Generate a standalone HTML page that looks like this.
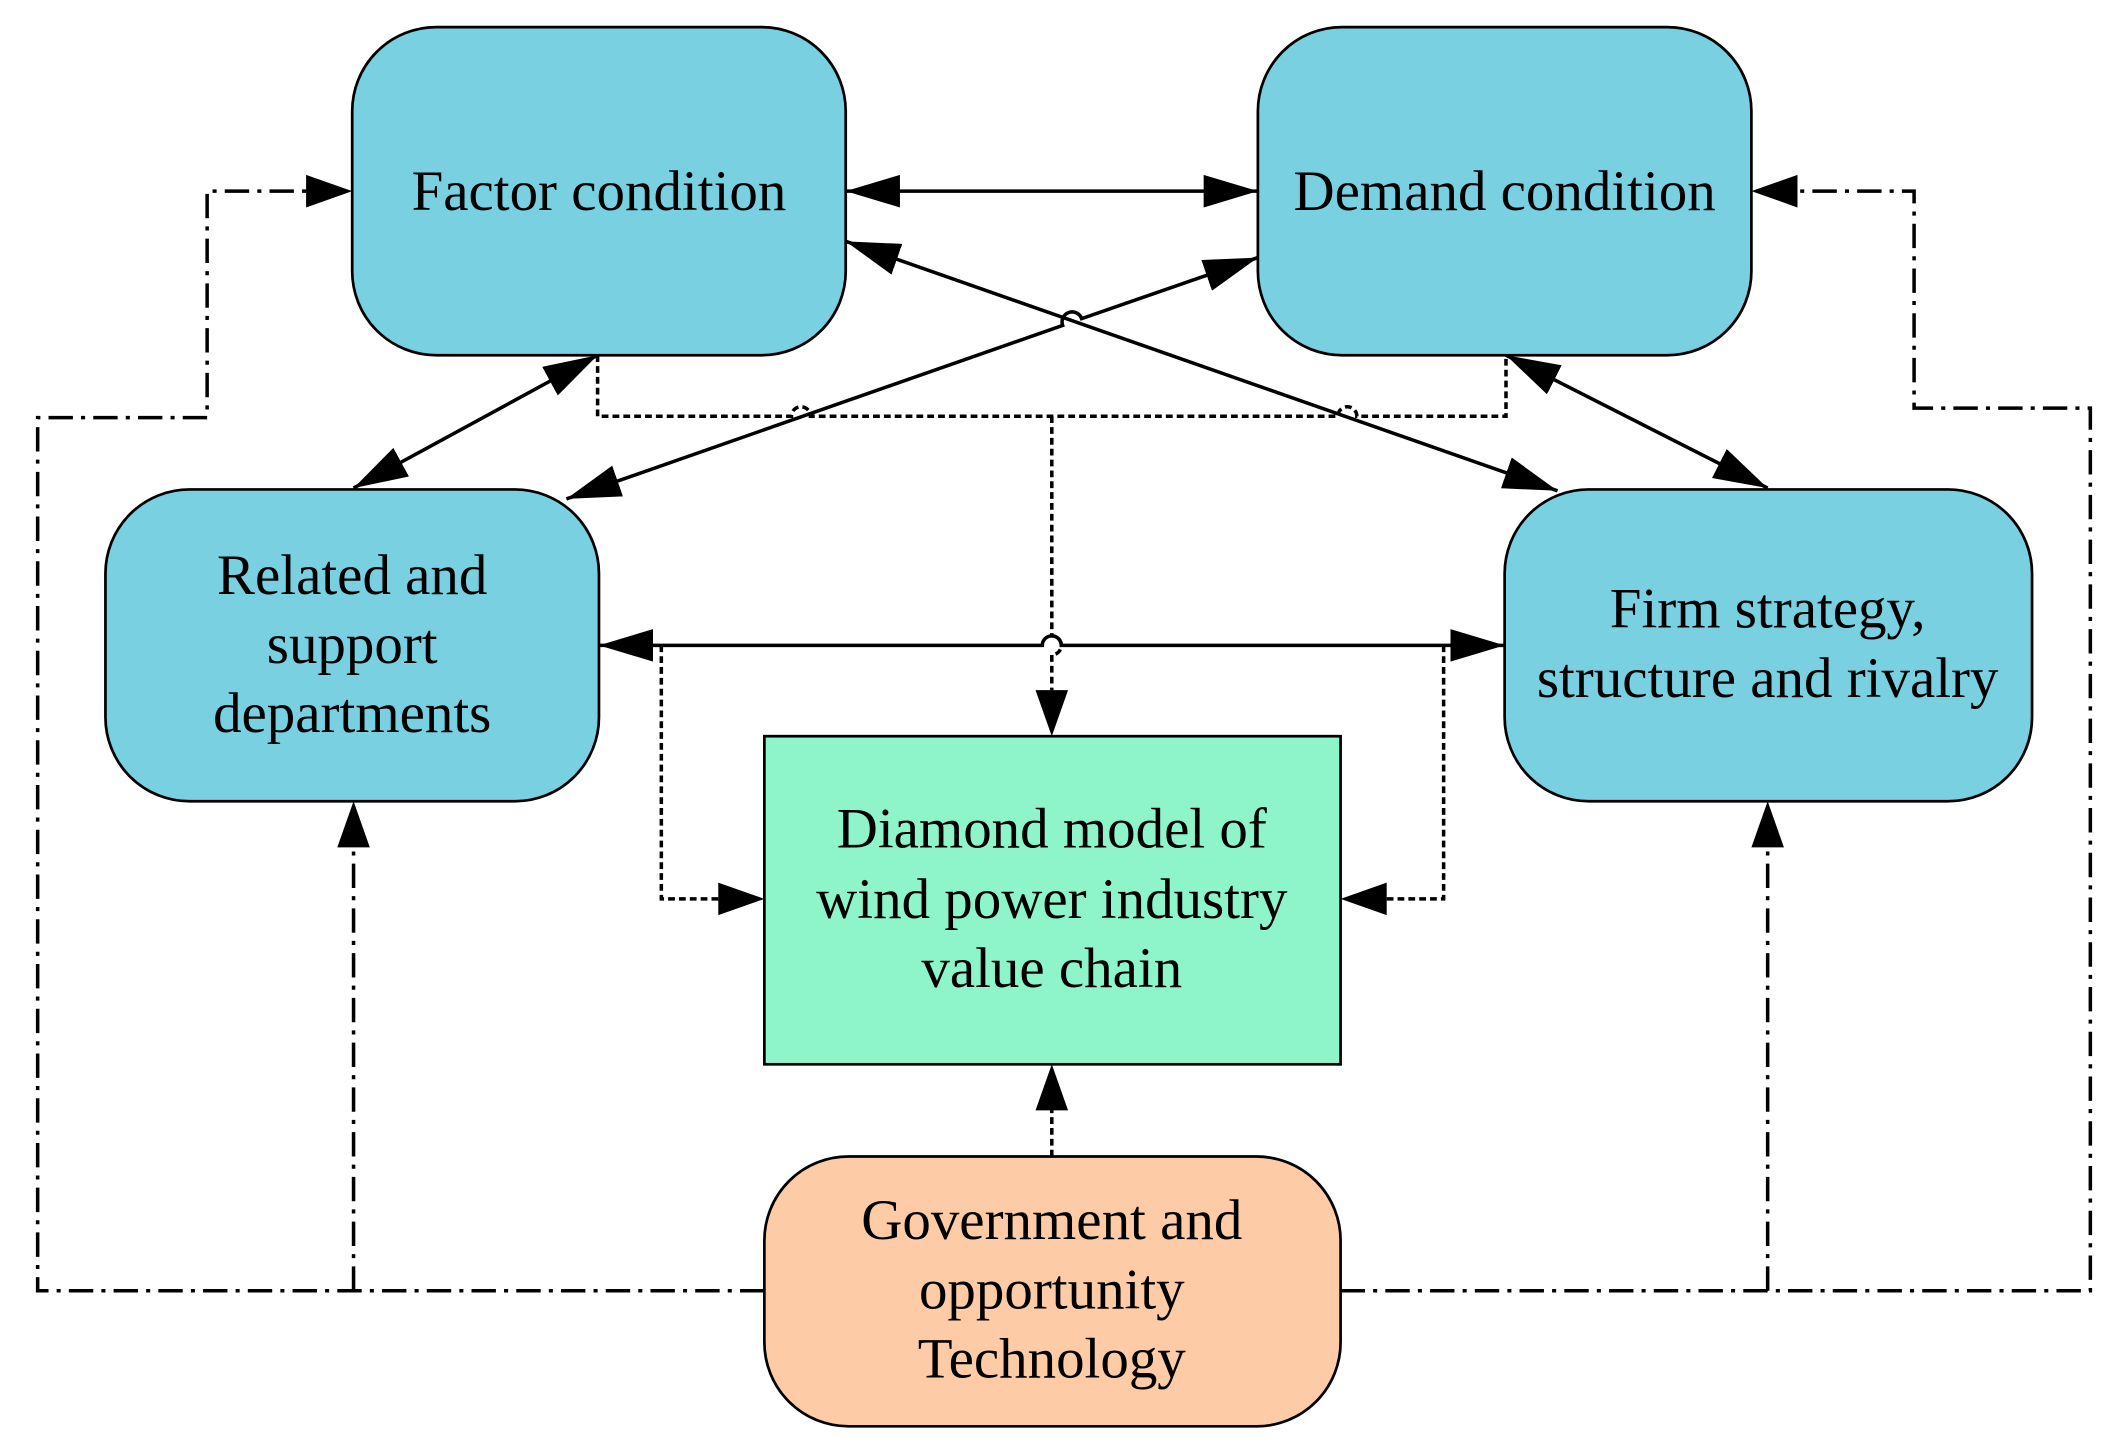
<!DOCTYPE html>
<html><head><meta charset="utf-8"><style>html,body{margin:0;padding:0;background:#fff}svg{display:block}</style></head><body>
<svg width="2128" height="1448" viewBox="0 0 1568 1068" xmlns="http://www.w3.org/2000/svg" font-family="Liberation Serif, serif">
<defs>
<marker id="b" viewBox="0 0 40 24" refX="40" refY="12" markerWidth="40" markerHeight="24" markerUnits="userSpaceOnUse" orient="auto-start-reverse"><path d="M0,0 L40,12 L0,24 z" fill="#000"/></marker>
</defs>
<g stroke="#000" stroke-width="2.6" fill="none">
<g stroke-dasharray="18,6,3,6">
<path d="M563,952 H27 V308 H152 V141 H225" />
<path d="M260,952 V625" />
<path d="M988,952 H1541 V301 H1411 V141 H1325" />
<path d="M1303,952 V625" />
</g>
<g stroke-dasharray="5,3">
<path d="M440,262 V307 H583 a7,7 0 0 1 14,0 H986 a7,7 0 0 1 14,0 H1110 V262"/>
<path d="M775,307 V469 a7,7 0 0 1 0,14 V509"/>
<path d="M487,476 V663 H529"/>
<path d="M1064,476 V663 H1022"/>
<path d="M775,853 V819"/>
</g>
<path d="M623,141 H927" marker-start="url(#b)" marker-end="url(#b)"/>
<path d="M623,178 L1148,362" marker-start="url(#b)" marker-end="url(#b)"/>
<path d="M927,190 L797,235 a7,7 0 0 0 -14,5 L417,368" marker-start="url(#b)" marker-end="url(#b)"/>
<path d="M440,262 L260,360" marker-start="url(#b)" marker-end="url(#b)"/>
<path d="M1110,262 L1303,360" marker-start="url(#b)" marker-end="url(#b)"/>
<path d="M441,476 H768 a7,7 0 0 1 14,0 H1109" marker-start="url(#b)" marker-end="url(#b)"/>
</g>
<g fill="#000">
<path d="M259,141 l-34,-12 v24 z"/>
<path d="M260,591 l-12,34 h24 z"/>
<path d="M1291,141 l34,-12 v24 z"/>
<path d="M1303,591 l-12,34 h24 z"/>
<path d="M775,543 l-12,-34 h24 z"/>
<path d="M563,663 l-34,-12 v24 z"/>
<path d="M988,663 l34,-12 v24 z"/>
<path d="M775,785 l-12,34 h24 z"/>
</g>
<g stroke="#000" stroke-width="2">
<rect x="259" y="20" width="364" height="242" rx="62" fill="#79d0e0"/>
<rect x="927" y="20" width="364" height="242" rx="62" fill="#79d0e0"/>
<rect x="77" y="361" width="364" height="230" rx="62" fill="#79d0e0"/>
<rect x="1109" y="361" width="389" height="230" rx="62" fill="#79d0e0"/>
<rect x="563" y="543" width="425" height="242" fill="#8ef5cb"/>
<rect x="563" y="853" width="425" height="199" rx="62" fill="#fdcba5"/>
</g>
<g font-size="42" text-anchor="middle" fill="#000">
<text x="441" y="155">Factor condition</text>
<text x="1109" y="155">Demand condition</text>
<text x="259" y="438">Related and</text>
<text x="259" y="489">support</text>
<text x="259" y="540">departments</text>
<text x="1303" y="463">Firm strategy,</text>
<text x="1303" y="514">structure and rivalry</text>
<text x="775" y="625">Diamond model of</text>
<text x="775" y="677">wind power industry</text>
<text x="775" y="728">value chain</text>
<text x="775" y="914">Government and</text>
<text x="775" y="965">opportunity</text>
<text x="775" y="1016">Technology</text>
</g>
</svg>
</body></html>
